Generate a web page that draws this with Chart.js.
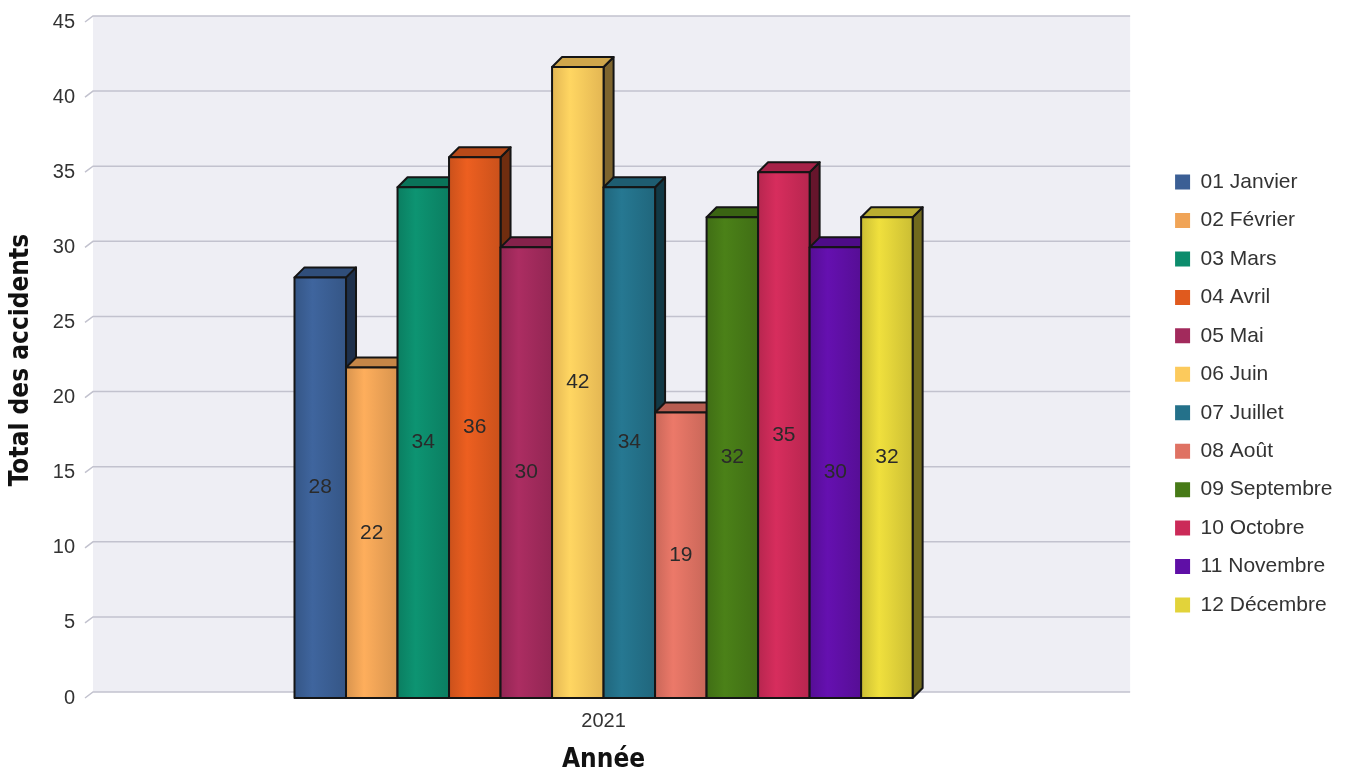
<!DOCTYPE html>
<html>
<head>
<meta charset="utf-8">
<title>Total des accidents 2021</title>
<script src="https://cdn.jsdelivr.net/npm/chart.js@4/dist/chart.umd.min.js"></script>
<style>
  html, body { margin: 0; padding: 0; background: #fff; }
</style>
</head>
<body>
<canvas id="accidentsChart" width="1358" height="776"></canvas>
<script>
// Data
const years = ["2021"];
const months = ["01 Janvier", "02 Février", "03 Mars", "04 Avril", "05 Mai", "06 Juin",
                "07 Juillet", "08 Août", "09 Septembre", "10 Octobre", "11 Novembre", "12 Décembre"];
const accidents = [28, 22, 34, 36, 30, 42, 34, 19, 32, 35, 30, 32];
const yMin = 0, yMax = 45, yStep = 5;

// One colour per month
const monthColors = ["#3b5f95", "#f0a457", "#0c8c6c", "#e05a1e", "#a22a5c", "#fcca5c",
                     "#24718a", "#df7263", "#477a17", "#cb2a58", "#5f0fa6", "#e2d33a"];

const NARROW = "'Liberation Sans Narrow', 'DejaVu Sans Condensed', Arial, sans-serif";
Chart.defaults.font.family = "'Liberation Sans', Arial, sans-serif";

// depth of bars and of the back wall
const DX = 10, DY = 10;
const WX = 8, WY = 6;

function shade(hex, f) {
    const n = parseInt(hex.slice(1), 16);
    const c = [(n >> 16) & 255, (n >> 8) & 255, n & 255].map(v => Math.max(0, Math.min(255, Math.round(v * f))));
    return "rgb(" + c.join(",") + ")";
}

function poly(ctx, pts, fill) {
    ctx.beginPath();
    ctx.moveTo(pts[0][0], pts[0][1]);
    for (let k = 1; k < pts.length; k++) ctx.lineTo(pts[k][0], pts[k][1]);
    ctx.closePath();
    ctx.fillStyle = fill;
    ctx.fill();
    ctx.stroke();
}

const bars3d = {
    id: "bars3d",
    afterLayout(chart) {
        // push the legend a bit to the right, like in the original
        const lg = chart.legend;
        lg.left += 35.5; lg.right += 35.5;
        lg.top -= 5; lg.bottom -= 5;
    },
    beforeDatasetsDraw(chart) {
        const { ctx, chartArea: a, scales: { y } } = chart;
        const top = y.getPixelForValue(yMax), zero = y.getPixelForValue(yMin);
        ctx.save();
        ctx.fillStyle = "#eeeef4";
        ctx.fillRect(a.left + WX, top - WY, a.right - a.left, zero - top);
        ctx.strokeStyle = "#c2c2ce";
        ctx.lineWidth = 1.5;
        y.ticks.forEach(t => {
            const py = y.getPixelForValue(t.value);
            ctx.beginPath();
            ctx.moveTo(a.left, py);
            ctx.lineTo(a.left + WX, py - WY);
            ctx.lineTo(a.right + WX, py - WY);
            ctx.stroke();
        });
        ctx.restore();
    },
    afterDatasetsDraw(chart) {
        const ctx = chart.ctx;
        ctx.save();
        ctx.lineWidth = 2;
        ctx.strokeStyle = "#151515";
        ctx.lineJoin = "round";
        chart.data.datasets.forEach((ds, i) => {
            const meta = chart.getDatasetMeta(i);
            if (meta.hidden) return;
            meta.data.forEach((bar, j) => {
                const { x, y, base, width } = bar.getProps(["x", "y", "base", "width"], true);
                const l = x - width / 2, r = x + width / 2;
                const c = ds.backgroundColor;
                // side
                poly(ctx, [[r, y], [r + DX, y - DY], [r + DX, base - DY], [r, base]], shade(c, 0.5));
                // top
                poly(ctx, [[l, y], [l + DX, y - DY], [r + DX, y - DY], [r, y]], shade(c, 0.82));
                // front
                const g = ctx.createLinearGradient(l, 0, r, 0);
                g.addColorStop(0, shade(c, 0.9));
                g.addColorStop(0.35, shade(c, 1.06));
                g.addColorStop(1, shade(c, 0.9));
                poly(ctx, [[l, y], [r, y], [r, base], [l, base]], g);
                // value label
                ctx.fillStyle = "#2a2a2a";
                ctx.font = "21px 'Liberation Sans', Arial, sans-serif";
                ctx.textAlign = "center";
                ctx.textBaseline = "middle";
                ctx.fillText(String(ds.data[j]), x, (y + base) / 2);
            });
        });
        ctx.restore();
    }
};

const datasets = months.map((m, i) => ({
    label: m,
    data: [accidents[i]],
    backgroundColor: monthColors[i],
    borderWidth: 0
}));

new Chart(document.getElementById("accidentsChart"), {
    type: "bar",
    data: { labels: years, datasets: datasets },
    plugins: [bars3d],
    options: {
        responsive: false,
        animation: false,
        categoryPercentage: 0.596,
        barPercentage: 1,
        layout: { padding: { top: 21, right: 51, bottom: 0, left: 0 } },
        plugins: {
            legend: {
                position: "right",
                labels: { boxWidth: 15, boxHeight: 15, padding: 17.45, color: "#333", font: { size: 21 } }
            },
            tooltip: { enabled: false }
        },
        scales: {
            x: {
                grid: { display: false, drawTicks: false },
                border: { display: false },
                ticks: { color: "#333", font: { size: 20 }, padding: 11 },
                title: { display: true, text: "Année", color: "#111",
                         font: { size: 26, weight: "bold", family: NARROW }, padding: { top: 2, bottom: 0 } },
                afterFit(s) { s.height = 78; }
            },
            y: {
                min: yMin, max: yMax,
                grid: { display: false, drawTicks: false },
                border: { display: false },
                ticks: { stepSize: yStep, color: "#333", font: { size: 20 }, padding: 10 },
                title: { display: true, text: "Total des accidents", color: "#111",
                         font: { size: 26, weight: "bold", family: NARROW }, padding: { top: 6, bottom: 0 } },
                afterFit(s) { s.width = 85; }
            }
        }
    }
});
</script>
</body>
</html>
